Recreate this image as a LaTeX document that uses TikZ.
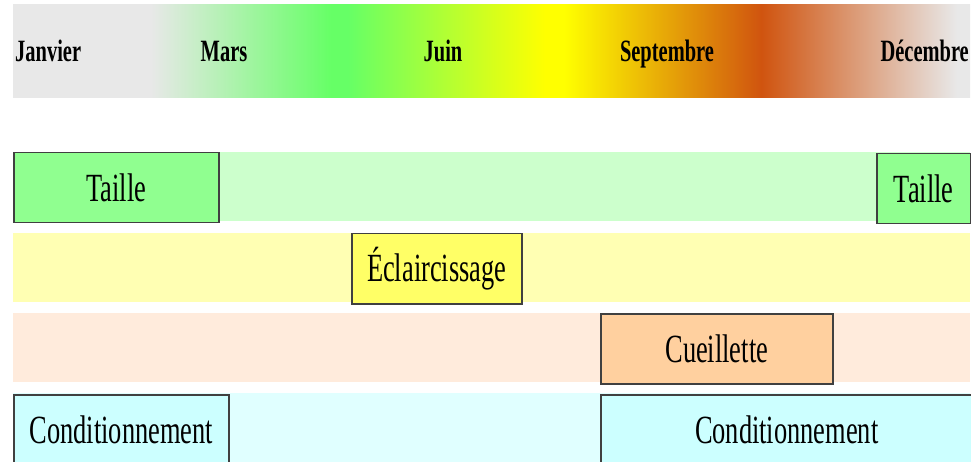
\documentclass[tikz,border=0pt]{standalone}
\usepackage{fontspec}
\setmainfont{Liberation Serif}[FakeStretch=0.66]
\usetikzlibrary{positioning}
\definecolor{grisclair}{HTML}{E8E8E8}
\definecolor{vertvif}{HTML}{66FF66}
\definecolor{jaunevif}{HTML}{FFFF00}
\definecolor{rouille}{HTML}{D0540F}
\definecolor{vertpale}{HTML}{CCFFCC}
\definecolor{jaunepale}{HTML}{FFFFB3}
\definecolor{orangepale}{HTML}{FFEBDC}
\definecolor{cyanpale}{HTML}{E0FFFF}
\definecolor{verttache}{HTML}{90FF90}
\definecolor{jaunetache}{HTML}{FFFF66}
\definecolor{orangetache}{HTML}{FFD09F}
\definecolor{cyantache}{HTML}{CCFFFF}
\pgfdeclarehorizontalshading{saisons}{100bp}{color(0bp)=(grisclair); color(32.2bp)=(grisclair); color(41.6bp)=(vertvif); color(42.5bp)=(vertvif); color(52.8bp)=(jaunevif); color(53.8bp)=(jaunevif); color(64.1bp)=(rouille); color(74.3bp)=(grisclair); color(100bp)=(grisclair)}
\tikzset{
    month/.style={font=\fontsize{31}{33}\selectfont\bfseries, inner sep=0pt, anchor=base},
    band/.style={draw=none},
    task/.style={rectangle, draw=black!75, line width=1.5pt, font=\fontsize{40}{44}\selectfont, align=center, anchor=north west, inner sep=0pt, minimum height=70pt}
}
\begin{document}
\begin{tikzpicture}[x=1pt, y=-1pt]
    \clip (0,0) rectangle (971,462);
    % calendrier
    \shade[shading=saisons] (13,5) rectangle (970,98);
    \node[month, anchor=base west] (janvier) at (15,62) {Janvier};
    \node[month] (mars) at (224,62) {Mars};
    \node[month] (juin) at (443,62) {Juin};
    \node[month] (septembre) at (667,62) {Septembre};
    \node[month, anchor=base east] (decembre) at (969,62) {Décembre};

    % bandes
    \fill[band, vertpale] (13,152) rectangle (970,221);
    \fill[band, jaunepale] (13,233) rectangle (970,302);
    \fill[band, orangepale] (13,313) rectangle (970,382);
    \fill[band, cyanpale] (13,393) rectangle (970,470);

    % travaux
    \node[task, fill=verttache, minimum width=205pt] (taillea) at (13,152) {Taille};
    \node[task, fill=verttache, minimum width=94pt] (tailleb) at (876,153) {Taille};
    \node[task, fill=jaunetache, minimum width=170pt] (eclaircissage) at (351,233) {Éclaircissage};
    \node[task, fill=orangetache, minimum width=232pt] (cueillette) at (600,313) {Cueillette};
    \node[task, fill=cyantache, minimum width=215pt] (conditionnementa) at (13,394) {Conditionnement};
    \node[task, fill=cyantache, minimum width=372pt] (conditionnementb) at (600,394) {Conditionnement};
\end{tikzpicture}
\end{document}
